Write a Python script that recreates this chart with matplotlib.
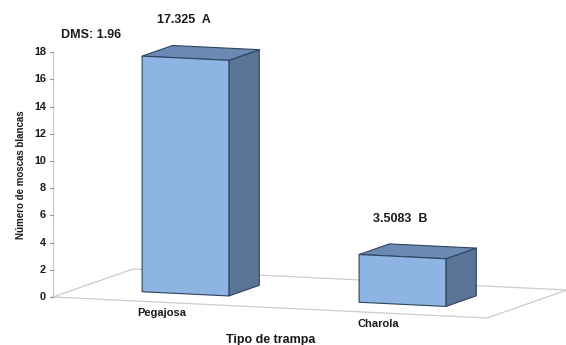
import matplotlib
matplotlib.use("Agg")
import matplotlib.pyplot as plt
import numpy as np

categories = ["Pegajosa", "Charola"]
values = [17.325, 3.5083]
letters = ["A", "B"]
value_labels = ["17.325", "3.5083"]
yticks = [0, 2, 4, 6, 8, 10, 12, 14, 16, 18]
ylabel = "Número de moscas blancas"
xlabel = "Tipo de trampa"
dms_text = "DMS: 1.96"

W, H = 566, 345
fig = plt.figure(figsize=(W / 100, H / 100), dpi=100)
ax = fig.add_axes([0, 0, 1, 1])
ax.set_xlim(0, W)
ax.set_ylim(H, 0)
ax.axis("off")

# oblique projection: u along category axis (0..1), v depth (0..1), val = value
ORIGIN = np.array([53.0, 297.0])
U = np.array([434.0, 21.0])
V = np.array([80.0, -28.0])
HV = np.array([0.0, -13.6])


def P(u, val, v):
    return ORIGIN + u * U + v * V + val * HV


font = ["Liberation Sans", "DejaVu Sans"]
floor_c = "#cccccc"
txt_c = "#1a1a1a"

# floor outline
corners = [P(0, 0, 0), P(1, 0, 0), P(1, 0, 1), P(0, 0, 1), P(0, 0, 0)]
ax.plot([c[0] for c in corners], [c[1] for c in corners], color=floor_c,
        lw=0.9, zorder=1)

# value axis
top = P(0, max(yticks), 0)
bot = P(0, 0, 0)
ax.plot([bot[0], top[0]], [bot[1], top[1]], color=floor_c, lw=0.9, zorder=1)
for t in yticks:
    p = P(0, t, 0)
    ax.plot([p[0] - 3.5, p[0]], [p[1], p[1]], color="#9a9a9a", lw=0.8, zorder=1)
    ax.text(p[0] - 7, p[1], str(t), ha="right", va="center", fontsize=7.8,
            fontweight="bold", family=font, color=txt_c)

front_c = "#8db4e2"
top_c = "#6a89b3"
side_c = "#5a7498"
edge_c = "#2e435e"

n = len(categories)
half = 0.1
v0, v1 = 0.3, 0.68
for i, (cat, val) in enumerate(zip(categories, values)):
    c = (i + 0.5) / n
    ul, ur = c - half, c + half
    side = [P(ur, 0, v0), P(ur, 0, v1), P(ur, val, v1), P(ur, val, v0)]
    topf = [P(ul, val, v0), P(ur, val, v0), P(ur, val, v1), P(ul, val, v1)]
    front = [P(ul, 0, v0), P(ur, 0, v0), P(ur, val, v0), P(ul, val, v0)]
    for poly, col in ((side, side_c), (topf, top_c), (front, front_c)):
        ax.add_patch(plt.Polygon(poly, closed=True, facecolor=col,
                                 edgecolor=edge_c, lw=0.8, zorder=3,
                                 joinstyle="round"))
    # value label
    lp = P(c, val, v0)
    ax.text(lp[0] - 2, lp[1] - 38, value_labels[i] + "  " + letters[i],
            ha="center", va="center", fontsize=9, fontweight="bold",
            family=font, color=txt_c)
    # category label
    cp = P(c, 0, 0)
    ax.text(cp[0], cp[1] + 11, cat, ha="center", va="center", fontsize=8,
            fontweight="bold", family=font, color=txt_c)

ax.text(91, 35, dms_text, ha="center", va="center", fontsize=9,
        fontweight="bold", family=font, color=txt_c)
ax.text(271, 340, xlabel, ha="center", va="center", fontsize=9,
        fontweight="bold", family=font, color=txt_c)
ax.text(21, 175, ylabel, ha="center", va="center", rotation=90, fontsize=7,
        fontweight="bold", family=font, color=txt_c)

fig.savefig("out.png", dpi=100, facecolor="white")
